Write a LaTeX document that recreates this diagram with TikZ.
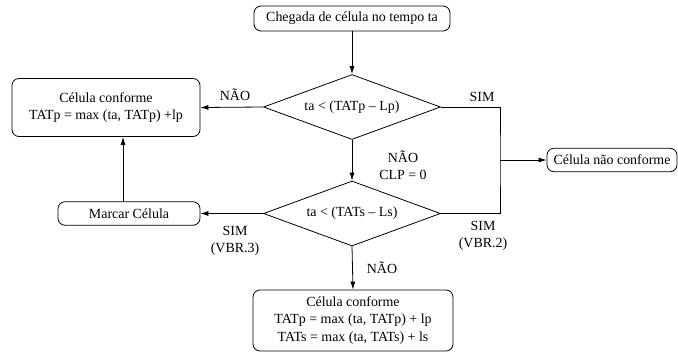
\documentclass[tikz,border=0pt]{standalone}
\usepackage{fontspec}
\setmainfont{Liberation Serif}
\usetikzlibrary{shapes.geometric,arrows.meta}
\begin{document}
\begin{tikzpicture}[x=1bp,y=-1bp,
  every node/.style={font=\fontsize{14}{17.5}\selectfont, inner sep=0pt},
  roundbox/.style={draw, rounded corners=7bp, align=center, line width=0.8bp},
  decision/.style={draw, diamond, shape aspect=2.72, line width=0.8bp, minimum width=177bp, minimum height=65bp},
  flow/.style={line width=0.8bp, -{Latex[length=8bp,width=5bp]}},
  plain/.style={line width=0.8bp},
  lbl/.style={align=center}]
\useasboundingbox (0,0) rectangle (678,353);

\node[roundbox, minimum width=196bp, minimum height=25bp] (start) at (352,18.5) {Chegada de célula no tempo ta};
\node[decision] (d1) at (352,107) {ta < (TATp – Lp)};
\node[decision] (d2) at (352,213.5) {ta < (TATs – Ls)};
\node[roundbox, minimum width=200bp, minimum height=61bp] (fim) at (353,320.5)
  {Célula conforme\\TATp = max (ta, TATp) + lp\\TATs = max (ta, TATs) + ls};
\node[roundbox, minimum width=188bp, minimum height=58bp] (conf) at (106,107.5)
  {Célula conforme\\TATp = max (ta, TATp) +lp};
\node[roundbox, minimum width=142bp, minimum height=23.5bp] (marcar) at (129,213.5) {Marcar Célula};
\node[roundbox, minimum width=130bp, minimum height=23.5bp] (nconf) at (612,160) {Célula não conforme};

\coordinate (j) at (500,160);
\coordinate (m) at (123,201.75);

\draw[flow] (start) -- (d1);
\draw[flow] (d1.west) -- (conf.east);
\draw[flow] (d1.south) -- (d2.north);
\draw[flow] (d2.west) -- (marcar.east);
\draw[flow] (d2.south) -- (fim.north);
\draw[flow] (m) -- (m |- conf.south);
\draw[plain] (d1.east) -| (j) |- (d2.east);
\draw[flow] (j) -- (nconf.west);

\node[lbl] (l1) at (235,95) {NÃO};
\node[lbl] (l2) at (482,97) {SIM};
\node[lbl] (l3) at (403,165.5) {NÃO\\CLP = 0};
\node[lbl] (l4) at (235,241) {SIM\\(VBR.3)};
\node[lbl] (l5) at (483,236) {SIM\\(VBR.2)};
\node[lbl] (l6) at (382,268) {NÃO};
\end{tikzpicture}
\end{document}
